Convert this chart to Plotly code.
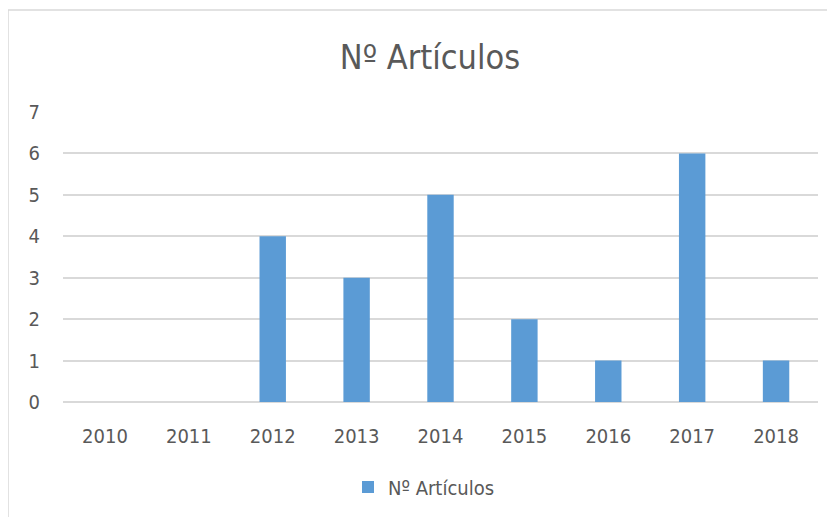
import plotly.graph_objects as go

years = ["2010", "2011", "2012", "2013", "2014", "2015", "2016", "2017", "2018"]
articulos = [0, 0, 4, 3, 5, 2, 1, 6, 1]
series_name = "Nº Artículos"

W, H = 835, 517
OFF = 8  # page body margin offset
ml, mt = 63 - OFF, 112 - OFF
mr = W - (818 - OFF)
mb = H - (402 - OFF)
pw, ph = W - ml - mr, H - mt - mb

def px_x(x):
    return (x - OFF - ml) / pw

def px_y(y):
    return 1 - (y - OFF - mt) / ph

fig = go.Figure()
fig.add_trace(go.Bar(
    x=years, y=articulos, name=series_name,
    marker=dict(color="#5B9BD5", line=dict(color="#5B9BD5", width=0)),
    showlegend=True,
))

font = "Liberation Sans Narrow, DejaVu Sans Condensed, Open Sans"
fig.update_layout(
    width=W, height=H,
    margin=dict(l=ml, r=mr, t=mt, b=mb),
    paper_bgcolor="white", plot_bgcolor="white",
    bargap=0.685,
    title=dict(text=series_name, x=(430 - OFF) / W, xanchor="center",
               y=1 - (57 - OFF) / H, yanchor="middle",
               font=dict(family=font, size=34, color="#595959")),
    xaxis=dict(type="category", showgrid=False, showline=False, ticks="",
               tickfont=dict(family=font, size=20, color="#595959"),
               ticklabelstandoff=20),
    yaxis=dict(range=[0, 7], dtick=1, showgrid=True, gridcolor="#D9D9D9",
               gridwidth=1.5, zeroline=True, zerolinecolor="#D9D9D9",
               zerolinewidth=1.5, showline=False, ticks="",
               tickfont=dict(family=font, size=20, color="#595959"),
               ticklabelstandoff=22),
    legend=dict(orientation="h", x=(424 - OFF) / W, xanchor="center",
                xref="container", yref="container",
                y=1 - (487 - OFF) / H, yanchor="middle",
                font=dict(family=font, size=20, color="#595959"),
                itemwidth=30),
    shapes=[dict(type="rect", xref="paper", yref="paper",
                 x0=px_x(8), x1=px_x(850), y0=px_y(540), y1=px_y(10),
                 line=dict(color="#D9D9D9", width=1.5), layer="below")],
)

fig.write_html("out.html")
